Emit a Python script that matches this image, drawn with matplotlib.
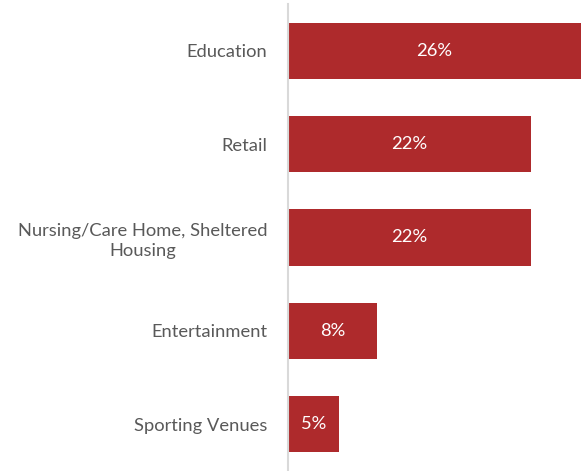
import matplotlib.pyplot as plt

# 数据
categories = ['Education', 'Retail', 'Nursing/Care Home, Sheltered\nHousing', 'Entertainment', 'Sporting Venues']
values = [26.4, 21.9, 21.9, 8.0, 4.6]
labels = ['26%', '22%', '22%', '8%', '5%']

plt.rcParams['font.family'] = ['Lato', 'DejaVu Sans']

fig = plt.figure(figsize=(5.87, 4.71), dpi=100)
ax = fig.add_axes([288 / 587, 0.0, 1 - 288 / 587 - 6 / 587, 1 - 4 / 471])

pos = list(range(len(categories)))
bars = ax.barh(pos, values, height=0.6, color='#AE2A2C')
ax.set_ylim(len(categories) - 0.5, -0.5)
ax.set_xlim(0, 26.4)

for b, lab in zip(bars, labels):
    ax.text(b.get_width() / 2, b.get_y() + b.get_height() / 2, lab,
            ha='center', va='center', color='white', fontsize=13.2)

ax.set_yticks(pos)
ax.set_yticklabels(categories, fontsize=13.2, color='#595959', linespacing=1.3)
for t in ax.get_yticklabels():
    t.set_multialignment('center')
ax.tick_params(axis='y', length=0, pad=15)
ax.set_xticks([])

for s in ['top', 'right', 'bottom']:
    ax.spines[s].set_visible(False)
ax.spines['left'].set_color('#D9D9D9')
ax.spines['left'].set_linewidth(1.5)

fig.savefig('out.png', dpi=100)
